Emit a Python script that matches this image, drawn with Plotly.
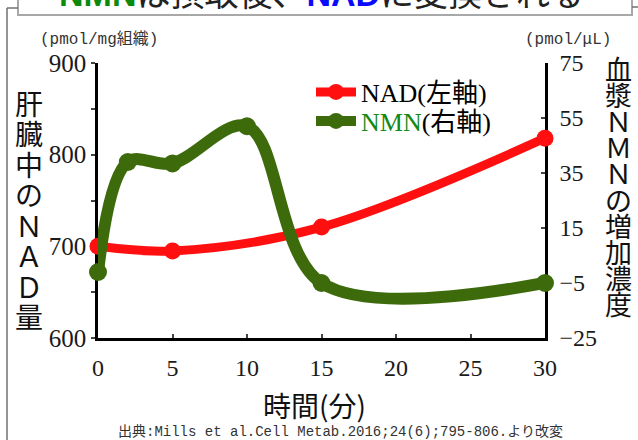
import plotly.graph_objects as go

# ---- data ----
time_nad = [0, 5, 15, 30]
nad_values = [700, 695, 721, 818]          # left axis (pmol/mg組織)
time_nmn = [0, 2, 5, 10, 15, 30]
nmn_values = [-1, 39, 38.5, 52, -5, -5]    # right axis (pmol/μL)

x_ticks = [0, 5, 10, 15, 20, 25, 30]
left_ticks = [600, 700, 800, 900]
left_minor_ticks = [650, 750, 850]
right_ticks = [-25, -5, 15, 35, 55, 75]

nad_name = "NAD(左軸)"
nmn_name = "<span style='color:#148a14'>NMN</span>(右軸)"
left_title_chars = list("肝臓中のＮＡＤ量")
right_title_chars = list("血漿ＮＭＮの増加濃度")
x_title = "時間(分)"
left_unit = "(pmol/mg組織)"
right_unit = "(pmol/μL)"
source_text = "出典:Mills et al.Cell Metab.2016;24(6);795-806.より改変"
banner_text = ("<b><span style='color:#0b8a0b'>NMN</span></b>は摂取後、"
               "<b><span style='color:#0a0aff'>NAD</span></b>に変換される")

# ---- geometry helpers (pixel -> paper) ----
W, H = 638, 440
L, R, T, B = 98, 545, 63, 338


def fx(px):
    return (px - L) / (R - L)


def fy(py):
    return (B - py) / (B - T)


RED = "#ff0f0f"
GREEN = "#3d6b0c"
SERIF = "Liberation Serif, Noto Sans CJK JP"
CJK = "Noto Sans CJK JP"
MONO = "Liberation Mono, Noto Sans CJK JP"

fig = go.Figure()
# lines first, markers on top (Excel-like layering)
fig.add_trace(go.Scatter(x=time_nad, y=nad_values, mode="lines", yaxis="y",
                         line=dict(color=RED, width=9, shape="spline", smoothing=1),
                         showlegend=False, hoverinfo="skip"))
fig.add_trace(go.Scatter(x=time_nmn, y=nmn_values, mode="lines", yaxis="y2",
                         line=dict(color=GREEN, width=12, shape="spline", smoothing=1),
                         showlegend=False, hoverinfo="skip"))
fig.add_trace(go.Scatter(x=time_nad, y=nad_values, mode="markers", yaxis="y",
                         marker=dict(color=RED, size=17), cliponaxis=False,
                         showlegend=False))
fig.add_trace(go.Scatter(x=time_nmn, y=nmn_values, mode="markers", yaxis="y2",
                         marker=dict(color=GREEN, size=18), cliponaxis=False,
                         showlegend=False))
# legend entries
fig.add_trace(go.Scatter(x=[None], y=[None], mode="lines+markers", name=nad_name,
                         line=dict(color=RED, width=9), marker=dict(color=RED, size=17),
                         legend="legend"))
fig.add_trace(go.Scatter(x=[None], y=[None], mode="lines+markers", name=nmn_name,
                         yaxis="y2", line=dict(color=GREEN, width=10),
                         marker=dict(color=GREEN, size=18), legend="legend2"))

axis_common = dict(showline=True, linecolor="black", linewidth=2.5, showgrid=False,
                   zeroline=False, layer="below traces", fixedrange=True,
                   tickcolor="#444", ticklen=4, tickwidth=1.5)

fig.update_layout(
    width=W, height=H, autosize=False,
    margin=dict(l=L, r=W - R, t=T, b=H - B, autoexpand=False),
    paper_bgcolor="white", plot_bgcolor="white",
    xaxis=dict(range=[0, 30], tickvals=x_ticks, ticks="inside",
               tickfont=dict(family=SERIF, size=24, color="#1a1a1a"),
               ticklabelstandoff=6, **axis_common),
    yaxis=dict(range=[600, 900], tickvals=left_ticks, ticks="outside",
               tickfont=dict(family=SERIF, size=25, color="#1a1a1a"),
               minor=dict(tickvals=left_minor_ticks, ticks="outside", ticklen=4,
                          tickcolor="#444", tickwidth=1.5),
               **axis_common),
    yaxis2=dict(range=[-25, 75], tickvals=right_ticks, overlaying="y", side="right",
                ticks="inside", tickfont=dict(family=SERIF, size=24, color="#1a1a1a"),
                ticklabelstandoff=7, **axis_common),
    legend=dict(x=fx(311), y=fy(92), xanchor="left", yanchor="middle",
                bgcolor="rgba(0,0,0,0)", borderwidth=0, itemwidth=40,
                font=dict(family=SERIF, size=26, color="black")),
    legend2=dict(x=fx(311), y=fy(121), xanchor="left", yanchor="middle",
                 bgcolor="rgba(0,0,0,0)", borderwidth=0, itemwidth=40,
                 font=dict(family=SERIF, size=26, color="black")),
)

ann = []
# banner title (mostly cut off at top)
ann.append(dict(text=banner_text, x=fx(321), y=fy(-6), xref="paper", yref="paper",
                xanchor="center", yanchor="middle", showarrow=False,
                font=dict(family="Liberation Sans, Noto Sans CJK JP", size=34, color="#222")))
# units
ann.append(dict(text=left_unit, x=fx(99), y=fy(40), xref="paper", yref="paper",
                xanchor="center", yanchor="middle", showarrow=False,
                font=dict(family=MONO, size=16, color="#333")))
ann.append(dict(text=right_unit, x=fx(568), y=fy(40), xref="paper", yref="paper",
                xanchor="center", yanchor="middle", showarrow=False,
                font=dict(family=MONO, size=16, color="#333")))
# x axis title
ann.append(dict(text=x_title, x=fx(314), y=fy(405), xref="paper", yref="paper",
                xanchor="center", yanchor="middle", showarrow=False,
                font=dict(family=CJK, size=28, color="#111")))
# source
ann.append(dict(text=source_text, x=fx(340), y=fy(432), xref="paper", yref="paper",
                xanchor="center", yanchor="middle", showarrow=False,
                font=dict(family=MONO, size=14, color="#333")))
# vertical axis titles, one character per row
for i, ch in enumerate(left_title_chars):
    ann.append(dict(text=ch, x=fx(29), y=fy(102.5 + 30.5 * i), xref="paper", yref="paper",
                    xanchor="center", yanchor="middle", showarrow=False,
                    font=dict(family=CJK, size=28, color="#111")))
for i, ch in enumerate(right_title_chars):
    ann.append(dict(text=ch, x=fx(618), y=fy(68 + 26.2 * i), xref="paper", yref="paper",
                    xanchor="center", yanchor="middle", showarrow=False,
                    font=dict(family=CJK, size=27, color="#111")))
fig.update_layout(annotations=ann)

# frame pieces: banner box and outer page lines
shapes = [
    dict(type="rect", xref="paper", yref="paper", x0=fx(18), x1=fx(632), y0=fy(15), y1=fy(-30),
         line=dict(color="#a8a8a8", width=2), fillcolor="rgba(0,0,0,0)"),
    dict(type="line", xref="paper", yref="paper", x0=fx(7), x1=fx(7), y0=fy(8), y1=fy(445),
         line=dict(color="#707070", width=1.5)),
    dict(type="line", xref="paper", yref="paper", x0=fx(7), x1=fx(18), y0=fy(8), y1=fy(8),
         line=dict(color="#707070", width=1.5)),
    dict(type="line", xref="paper", yref="paper", x0=fx(632), x1=fx(645), y0=fy(7), y1=fy(7),
         line=dict(color="#707070", width=1.5)),
]
fig.update_layout(shapes=shapes)

fig.write_html("out.html", config={"displayModeBar": False},
               post_script="document.body.style.margin='0';document.body.style.overflow='hidden';")
